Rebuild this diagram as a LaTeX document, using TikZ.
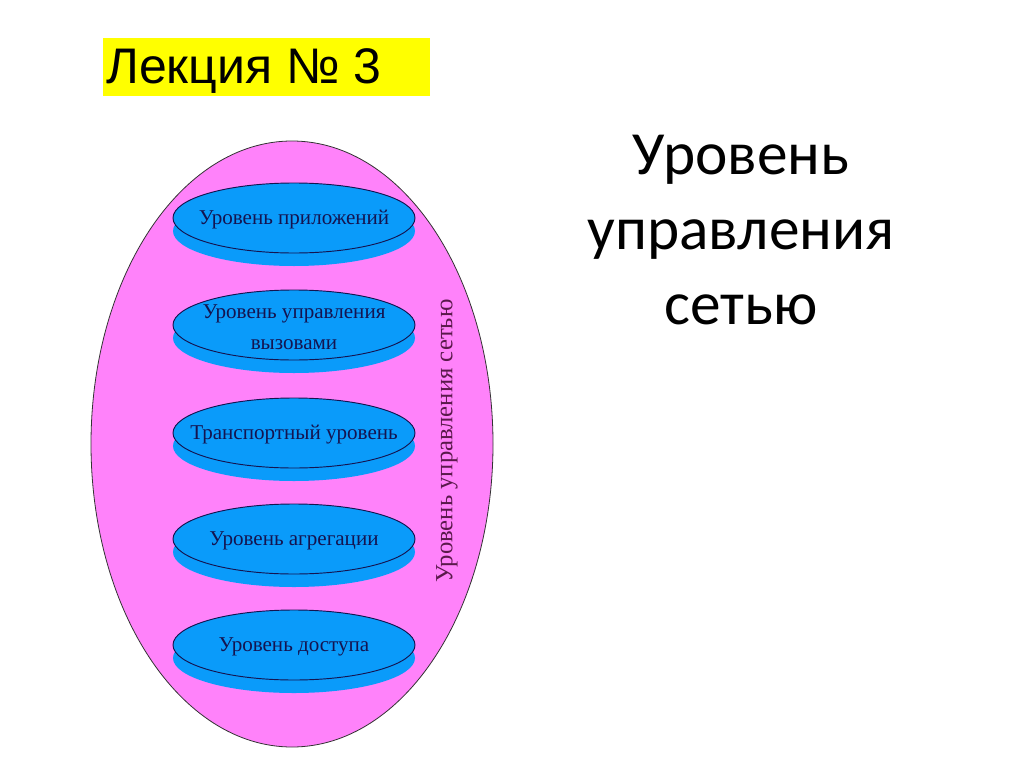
\documentclass[tikz,border=0pt]{standalone}
\usepackage{fontspec}
\setmainfont{Liberation Serif}
\newfontfamily\arialfont{Liberation Sans}
\newfontfamily\calibrifont{Carlito}
\usepackage{xcolor}
\usetikzlibrary{shapes,positioning}

\definecolor{eggpink}{RGB}{255,130,250}
\definecolor{discblue}{RGB}{10,155,250}
\definecolor{discnavy}{RGB}{20,20,80}
\definecolor{sidepurple}{RGB}{90,25,75}
\definecolor{lectyellow}{RGB}{255,255,0}

\begin{document}
\begin{tikzpicture}[x=0.75pt, y=-0.75pt,
    egg/.style={draw=black!80, fill=eggpink, ellipse, line width=0.6pt, minimum width=301.5pt, minimum height=454.5pt, inner sep=0pt},
    disc shadow/.style={fill=discblue, ellipse, minimum width=181.5pt, minimum height=52.5pt, inner sep=0pt},
    disc/.style={disc shadow, draw=discnavy, line width=0.7pt, label={[align=center, text=discnavy, yshift=-1.5pt, font=\fontsize{15.8}{22}\selectfont]center:#1}}]
    \useasboundingbox[fill=white] (0,0) rectangle (1024,767);

    % title
    \node[fill=lectyellow, anchor=north west, minimum width=245pt, minimum height=43pt, inner sep=0pt] (lect) at (103,38) {};
    \node[anchor=west, font=\arialfont\fontsize{37.5}{40}\selectfont, inner sep=0pt] (lecttext) at (106,71) {Лекция № 3};
    \node[align=center, font=\calibrifont\fontsize{46}{56}\selectfont] (head) at (741,230) {Уровень\\управления\\сетью};

    % the egg
    \node[egg] (net) at (292,444) {};

    % layers
    \foreach \y/\n in {218/app, 325/call, 433/trans, 539/aggr, 645/acc}
        \node[disc shadow] (\n sh) at (294,\y+13) {};
    \node[disc={Уровень приложений}] (app) at (294,218) {};
    \node[disc={Уровень управления\\[1pt] вызовами}] (call) at (294,325) {};
    \node[disc={Транспортный уровень}] (trans) at (294,433) {};
    \node[disc={Уровень агрегации}] (aggr) at (294,539) {};
    \node[disc={Уровень доступа}] (acc) at (294,645) {};

    \node[rotate=90, text=sidepurple, font=\fontsize{18.5}{20}\selectfont] (side) at (447,441) {Уровень управления сетью};

\end{tikzpicture}
\end{document}
